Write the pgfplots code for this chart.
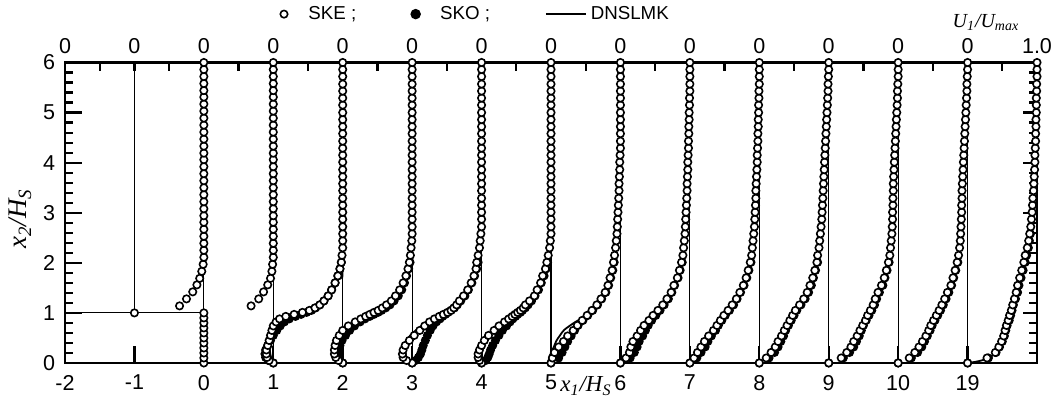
\documentclass[border=0pt]{standalone}
\usepackage{fontspec}
\setmainfont{Liberation Sans}
\newfontfamily\timesfont{Liberation Serif}
\usepackage{pgfplots}
\pgfplotsset{compat=1.18}
\usepackage{pgfplotstable}

\newcommand{\lab}[1]{{\timesfont\itshape #1}}

% Streamwise velocity profiles U1/Umax; each station is drawn from its own
% zero line, one unit of x standing for U1/Umax = 1.
% station x1/HS = -1 (above the step)
\pgfplotstableread[row sep=\\]{
y ske\\
1.00 0\\ 1.14 0.65\\ 1.28 0.75\\ 1.42 0.84\\ 1.56 0.90\\ 1.69 0.94\\ 1.83 0.97\\ 1.97 0.99\\
2.11 1\\ 2.25 1\\ 2.39 1\\ 2.53 1\\ 2.67 1\\ 2.81 1\\ 2.94 1\\ 3.08 1\\ 3.22 1\\ 3.36 1\\
3.50 1\\ 3.64 1\\ 3.78 1\\ 3.92 1\\ 4.06 1\\ 4.19 1\\ 4.33 1\\ 4.47 1\\ 4.61 1\\ 4.75 1\\
4.89 1\\ 5.03 1\\ 5.17 1\\ 5.31 1\\ 5.44 1\\ 5.58 1\\ 5.72 1\\ 5.86 1\\ 6.00 1\\
}\stationM
% station x1/HS = 0 (step edge)
\pgfplotstableread[row sep=\\]{
y ske\\
0 0\\ 0.10 0\\ 0.20 0\\ 0.30 0\\ 0.40 0\\ 0.50 0\\ 0.60 0\\ 0.70 0\\ 0.80 0\\ 0.90 0\\ 1.00 0\\
1.14 0.68\\ 1.28 0.79\\ 1.42 0.86\\ 1.56 0.92\\ 1.69 0.96\\ 1.83 0.98\\ 1.97 0.99\\
2.11 1\\ 2.25 1\\ 2.39 1\\ 2.53 1\\ 2.67 1\\ 2.81 1\\ 2.94 1\\ 3.08 1\\ 3.22 1\\ 3.36 1\\
3.50 1\\ 3.64 1\\ 3.78 1\\ 3.92 1\\ 4.06 1\\ 4.19 1\\ 4.33 1\\ 4.47 1\\ 4.61 1\\ 4.75 1\\
4.89 1\\ 5.03 1\\ 5.17 1\\ 5.31 1\\ 5.44 1\\ 5.58 1\\ 5.72 1\\ 5.86 1\\ 6.00 1\\
}\stationO
% station 1
\pgfplotstableread[row sep=\\]{
y ske sko\\
0 0 0\\ 0.05 -0.06 -0.07\\ 0.11 -0.09 -0.11\\ 0.18 -0.10 -0.12\\ 0.26 -0.10 -0.11\\
0.35 -0.08 -0.08\\ 0.45 -0.06 -0.04\\ 0.55 -0.04 0.00\\ 0.65 -0.02 0.05\\ 0.74 0.00 0.10\\
0.82 0.04 0.16\\ 0.88 0.09 0.23\\ 0.93 0.18 0.32\\ 0.97 0.30 0.40\\ 1.01 0.42 0.48\\
1.05 0.52 0.55\\ 1.10 0.60 0.61\\ 1.16 0.67 0.67\\ 1.24 0.73 0.73\\ 1.34 0.79 0.79\\
1.46 0.84 0.84\\ 1.60 0.89 0.89\\ 1.74 0.93 0.93\\ 1.88 0.96 0.96\\ 2.01 0.98 0.98\\
2.15 0.99 nan\\ 2.30 1 nan\\ 2.44 1 nan\\ 2.58 1 nan\\ 2.72 1 nan\\ 2.87 1 nan\\ 3.01 1 nan\\
3.15 1 nan\\ 3.29 1 nan\\ 3.44 1 nan\\ 3.58 1 nan\\ 3.72 1 nan\\ 3.86 1 nan\\ 4.01 1 nan\\
4.15 1 nan\\ 4.29 1 nan\\ 4.43 1 nan\\ 4.58 1 nan\\ 4.72 1 nan\\ 4.86 1 nan\\ 5.00 1 nan\\
5.15 1 nan\\ 5.29 1 nan\\ 5.43 1 nan\\ 5.57 1 nan\\ 5.72 1 nan\\ 5.86 1 nan\\ 6.00 1 nan\\
}\stationI
% station 2
\pgfplotstableread[row sep=\\]{
y ske sko\\
0 0 0\\ 0.05 -0.06 -0.04\\ 0.11 -0.10 -0.06\\ 0.18 -0.12 -0.07\\ 0.26 -0.12 -0.06\\
0.35 -0.11 -0.04\\ 0.45 -0.09 -0.01\\ 0.55 -0.05 0.04\\ 0.65 0.00 0.10\\ 0.74 0.08 0.17\\
0.82 0.18 0.25\\ 0.88 0.26 0.32\\ 0.93 0.33 0.39\\ 0.97 0.39 0.45\\ 1.01 0.45 0.51\\
1.05 0.51 0.56\\ 1.10 0.57 0.62\\ 1.16 0.63 0.68\\ 1.24 0.70 0.74\\ 1.34 0.76 0.80\\
1.46 0.82 0.85\\ 1.60 0.87 0.89\\ 1.74 0.91 0.92\\ 1.88 0.94 0.95\\ 2.01 0.96 0.97\\
2.15 0.975 nan\\ 2.30 0.985 nan\\ 2.44 0.995 nan\\ 2.58 1 nan\\ 2.72 1 nan\\ 2.87 1 nan\\ 3.01 1 nan\\
3.15 1 nan\\ 3.29 1 nan\\ 3.44 1 nan\\ 3.58 1 nan\\ 3.72 1 nan\\ 3.86 1 nan\\ 4.01 1 nan\\
4.15 1 nan\\ 4.29 1 nan\\ 4.43 1 nan\\ 4.58 1 nan\\ 4.72 1 nan\\ 4.86 1 nan\\ 5.00 1 nan\\
5.15 1 nan\\ 5.29 1 nan\\ 5.43 1 nan\\ 5.57 1 nan\\ 5.72 1 nan\\ 5.86 1 nan\\ 6.00 1 nan\\
}\stationII
% station 3
\pgfplotstableread[row sep=\\]{
y ske sko\\
0 0 0\\ 0.05 -0.08 0.05\\ 0.11 -0.13 0.09\\ 0.18 -0.14 0.12\\ 0.26 -0.13 0.14\\
0.35 -0.10 0.16\\ 0.45 -0.04 0.19\\ 0.55 0.03 0.22\\ 0.65 0.11 0.26\\ 0.74 0.18 0.30\\
0.82 0.25 0.35\\ 0.88 0.32 0.40\\ 0.93 0.39 0.44\\ 0.97 0.45 0.48\\ 1.01 0.51 0.52\\
1.05 0.56 0.56\\ 1.10 0.60 0.61\\ 1.16 0.64 0.65\\ 1.24 0.68 0.70\\ 1.34 0.74 0.76\\
1.46 0.80 0.81\\ 1.60 0.85 0.86\\ 1.74 0.89 0.90\\ 1.88 0.92 0.93\\ 2.01 0.93 0.95\\
2.15 0.95 nan\\ 2.30 0.97 nan\\ 2.44 0.98 nan\\ 2.58 0.99 nan\\ 2.72 1 nan\\ 2.87 1 nan\\ 3.01 1 nan\\
3.15 1 nan\\ 3.29 1 nan\\ 3.44 1 nan\\ 3.58 1 nan\\ 3.72 1 nan\\ 3.86 1 nan\\ 4.01 1 nan\\
4.15 1 nan\\ 4.29 1 nan\\ 4.43 1 nan\\ 4.58 1 nan\\ 4.72 1 nan\\ 4.86 1 nan\\ 5.00 1 nan\\
5.15 1 nan\\ 5.29 1 nan\\ 5.43 1 nan\\ 5.57 1 nan\\ 5.72 1 nan\\ 5.86 1 nan\\ 6.00 1 nan\\
}\stationIII
% station 4
\pgfplotstableread[row sep=\\]{
y ske sko\\
0 0 0\\ 0.05 -0.03 0.06\\ 0.11 -0.05 0.09\\ 0.18 -0.05 0.11\\ 0.26 -0.03 0.13\\
0.35 0.00 0.16\\ 0.45 0.04 0.20\\ 0.55 0.10 0.25\\ 0.65 0.18 0.30\\ 0.74 0.25 0.36\\
0.82 0.33 0.41\\ 0.88 0.39 0.45\\ 0.93 0.44 0.49\\ 0.97 0.48 0.52\\ 1.01 0.52 0.56\\
1.05 0.56 0.59\\ 1.10 0.60 0.63\\ 1.16 0.63 0.67\\ 1.24 0.69 0.72\\ 1.34 0.76 0.77\\
1.46 0.80 0.82\\ 1.60 0.85 0.86\\ 1.74 0.88 0.90\\ 1.88 0.92 0.93\\ 2.01 0.94 0.95\\
2.15 0.96 nan\\ 2.30 0.98 nan\\ 2.44 0.99 nan\\ 2.58 1 nan\\ 2.72 1 nan\\ 2.87 1 nan\\ 3.01 1 nan\\
3.15 1 nan\\ 3.29 1 nan\\ 3.44 1 nan\\ 3.58 1 nan\\ 3.72 1 nan\\ 3.86 1 nan\\ 4.01 1 nan\\
4.15 1 nan\\ 4.29 1 nan\\ 4.43 1 nan\\ 4.58 1 nan\\ 4.72 1 nan\\ 4.86 1 nan\\ 5.00 1 nan\\
5.15 1 nan\\ 5.29 1 nan\\ 5.43 1 nan\\ 5.57 1 nan\\ 5.72 1 nan\\ 5.86 1 nan\\ 6.00 1 nan\\
}\stationIV
% station 5
\pgfplotstableread[row sep=\\]{
y ske sko\\
0 0 0\\ 0.10 0.02 0.11\\ 0.21 0.05 0.16\\ 0.32 0.11 0.20\\ 0.43 0.18 0.24\\ 0.54 0.24 0.29\\
0.65 0.32 0.34\\ 0.75 0.38 0.39\\ 0.85 0.45 0.46\\ 0.95 0.52 0.53\\ 1.05 0.59 0.60\\
1.16 0.66 0.67\\ 1.28 0.72 0.73\\ 1.41 0.78 0.79\\ 1.55 0.82 0.83\\ 1.70 0.85 0.86\\
1.85 0.88 0.89\\ 2.01 0.90 0.91\\
2.15 0.915 nan\\ 2.30 0.93 nan\\ 2.44 0.94 nan\\ 2.58 0.95 nan\\ 2.72 0.955 nan\\ 2.87 0.96 nan\\
3.01 0.965 nan\\ 3.15 0.97 nan\\ 3.29 0.975 nan\\ 3.44 0.98 nan\\ 3.58 0.98 nan\\ 3.72 0.985 nan\\
3.86 0.99 nan\\ 4.01 0.99 nan\\ 4.15 0.995 nan\\ 4.29 1 nan\\ 4.43 1 nan\\ 4.58 1 nan\\
4.72 1 nan\\ 4.86 1 nan\\ 5.00 1 nan\\ 5.15 1 nan\\ 5.29 1 nan\\ 5.43 1 nan\\ 5.57 1 nan\\
5.72 1 nan\\ 5.86 1 nan\\ 6.00 1 nan\\
}\stationV
% station 6
\pgfplotstableread[row sep=\\]{
y ske sko\\
0 0 0\\ 0.10 0.08 0.14\\ 0.21 0.13 0.20\\ 0.32 0.15 0.24\\ 0.43 0.18 0.27\\ 0.54 0.24 0.32\\
0.65 0.29 0.36\\ 0.75 0.34 0.40\\ 0.85 0.41 0.45\\ 0.95 0.47 0.51\\ 1.05 0.54 0.57\\
1.16 0.61 0.63\\ 1.28 0.67 0.69\\ 1.41 0.73 0.74\\ 1.55 0.77 0.78\\ 1.70 0.82 0.83\\
1.85 0.85 0.86\\ 2.01 0.88 0.89\\
2.15 0.90 nan\\ 2.30 0.91 nan\\ 2.44 0.92 nan\\ 2.58 0.93 nan\\ 2.72 0.935 nan\\ 2.87 0.94 nan\\
3.01 0.945 nan\\ 3.15 0.95 nan\\ 3.29 0.955 nan\\ 3.44 0.96 nan\\ 3.58 0.96 nan\\ 3.72 0.965 nan\\
3.86 0.97 nan\\ 4.01 0.97 nan\\ 4.15 0.975 nan\\ 4.29 0.98 nan\\ 4.43 0.98 nan\\ 4.58 0.985 nan\\
4.72 0.985 nan\\ 4.86 0.99 nan\\ 5.00 0.99 nan\\ 5.15 0.995 nan\\ 5.29 0.995 nan\\ 5.43 1 nan\\
5.57 1 nan\\ 5.72 1 nan\\ 5.86 1 nan\\ 6.00 1 nan\\
}\stationVI
% station 7
\pgfplotstableread[row sep=\\]{
y ske sko\\
0 0 0\\ 0.10 0.06 0.10\\ 0.21 0.11 0.16\\ 0.32 0.16 0.22\\ 0.43 0.21 0.26\\ 0.54 0.27 0.31\\
0.65 0.34 0.37\\ 0.75 0.39 0.41\\ 0.85 0.44 0.46\\ 0.95 0.49 0.51\\ 1.05 0.55 0.57\\
1.16 0.61 0.63\\ 1.28 0.67 0.68\\ 1.41 0.72 0.73\\ 1.55 0.77 0.78\\ 1.70 0.81 0.82\\
1.85 0.84 0.85\\ 2.01 0.87 0.88\\
2.15 0.89 nan\\ 2.30 0.90 nan\\ 2.44 0.91 nan\\ 2.58 0.92 nan\\ 2.72 0.93 nan\\ 2.87 0.935 nan\\
3.01 0.94 nan\\ 3.15 0.945 nan\\ 3.29 0.95 nan\\ 3.44 0.95 nan\\ 3.58 0.955 nan\\ 3.72 0.96 nan\\
3.86 0.965 nan\\ 4.01 0.97 nan\\ 4.15 0.97 nan\\ 4.29 0.975 nan\\ 4.43 0.98 nan\\ 4.58 0.98 nan\\
4.72 0.985 nan\\ 4.86 0.985 nan\\ 5.00 0.99 nan\\ 5.15 0.99 nan\\ 5.29 0.995 nan\\ 5.43 0.995 nan\\
5.57 1 nan\\ 5.72 1 nan\\ 5.86 1 nan\\ 6.00 1 nan\\
}\stationVII
% station 8
\pgfplotstableread[row sep=\\]{
y ske sko\\
0 0 0\\ 0.10 0.10 0.14\\ 0.21 0.17 0.22\\ 0.32 0.23 0.27\\ 0.43 0.27 0.31\\ 0.54 0.32 0.35\\
0.65 0.36 0.38\\ 0.75 0.40 0.42\\ 0.85 0.44 0.46\\ 0.95 0.48 0.50\\ 1.05 0.52 0.54\\
1.16 0.58 0.60\\ 1.28 0.64 0.66\\ 1.41 0.69 0.71\\ 1.55 0.73 0.75\\ 1.70 0.77 0.78\\
1.85 0.80 0.81\\ 2.01 0.83 0.84\\
2.15 0.84 nan\\ 2.30 0.86 nan\\ 2.44 0.87 nan\\ 2.58 0.88 nan\\ 2.72 0.89 nan\\ 2.87 0.90 nan\\
3.01 0.905 nan\\ 3.15 0.91 nan\\ 3.29 0.915 nan\\ 3.44 0.92 nan\\ 3.58 0.925 nan\\ 3.72 0.93 nan\\
3.86 0.935 nan\\ 4.01 0.94 nan\\ 4.15 0.945 nan\\ 4.29 0.95 nan\\ 4.43 0.955 nan\\ 4.58 0.96 nan\\
4.72 0.965 nan\\ 4.86 0.97 nan\\ 5.00 0.975 nan\\ 5.15 0.98 nan\\ 5.29 0.985 nan\\ 5.43 0.99 nan\\
5.57 0.99 nan\\ 5.72 0.995 nan\\ 5.86 1 nan\\ 6.00 1 nan\\
}\stationVIII
% station 9
\pgfplotstableread[row sep=\\]{
y ske sko\\
0 0 0\\ 0.10 0.18 0.21\\ 0.21 0.26 0.30\\ 0.32 0.32 0.36\\ 0.43 0.36 0.40\\ 0.54 0.41 0.44\\
0.65 0.45 0.47\\ 0.75 0.49 0.50\\ 0.85 0.53 0.54\\ 0.95 0.56 0.58\\ 1.05 0.60 0.62\\
1.16 0.64 0.66\\ 1.28 0.67 0.69\\ 1.41 0.71 0.73\\ 1.55 0.76 0.78\\ 1.70 0.80 0.81\\
1.85 0.83 0.84\\ 2.01 0.86 0.87\\
2.15 0.88 nan\\ 2.30 0.89 nan\\ 2.44 0.90 nan\\ 2.58 0.91 nan\\ 2.72 0.915 nan\\ 2.87 0.92 nan\\
3.01 0.92 nan\\ 3.15 0.925 nan\\ 3.29 0.925 nan\\ 3.44 0.93 nan\\ 3.58 0.93 nan\\ 3.72 0.935 nan\\
3.86 0.94 nan\\ 4.01 0.945 nan\\ 4.15 0.95 nan\\ 4.29 0.955 nan\\ 4.43 0.96 nan\\ 4.58 0.965 nan\\
4.72 0.97 nan\\ 4.86 0.975 nan\\ 5.00 0.98 nan\\ 5.15 0.985 nan\\ 5.29 0.99 nan\\ 5.43 0.99 nan\\
5.57 0.995 nan\\ 5.72 1 nan\\ 5.86 1 nan\\ 6.00 1 nan\\
}\stationIX
% station 10
\pgfplotstableread[row sep=\\]{
y ske sko\\
0 0 0\\ 0.10 0.16 0.19\\ 0.21 0.24 0.28\\ 0.32 0.30 0.34\\ 0.43 0.35 0.38\\ 0.54 0.40 0.42\\
0.65 0.44 0.46\\ 0.75 0.47 0.49\\ 0.85 0.51 0.53\\ 0.95 0.55 0.57\\ 1.05 0.59 0.61\\
1.16 0.63 0.65\\ 1.28 0.67 0.69\\ 1.41 0.71 0.73\\ 1.55 0.76 0.77\\ 1.70 0.79 0.80\\
1.85 0.82 0.83\\ 2.01 0.85 0.86\\
2.15 0.87 nan\\ 2.30 0.885 nan\\ 2.44 0.895 nan\\ 2.58 0.90 nan\\ 2.72 0.905 nan\\ 2.87 0.91 nan\\
3.01 0.915 nan\\ 3.15 0.915 nan\\ 3.29 0.92 nan\\ 3.44 0.92 nan\\ 3.58 0.925 nan\\ 3.72 0.93 nan\\
3.86 0.935 nan\\ 4.01 0.94 nan\\ 4.15 0.945 nan\\ 4.29 0.95 nan\\ 4.43 0.955 nan\\ 4.58 0.96 nan\\
4.72 0.965 nan\\ 4.86 0.97 nan\\ 5.00 0.975 nan\\ 5.15 0.98 nan\\ 5.29 0.985 nan\\ 5.43 0.99 nan\\
5.57 0.99 nan\\ 5.72 0.995 nan\\ 5.86 1 nan\\ 6.00 1 nan\\
}\stationX
% station 19 (drawn at position 11)
\pgfplotstableread[row sep=\\]{
y ske sko\\
0 0 0\\ 0.10 0.28 0.30\\ 0.21 0.40 0.41\\ 0.32 0.45 0.46\\ 0.43 0.49 0.50\\ 0.54 0.52 0.53\\
0.65 0.54 0.55\\ 0.75 0.56 0.57\\ 0.85 0.585 0.60\\ 0.95 0.605 0.62\\ 1.05 0.63 0.64\\
1.16 0.65 0.66\\ 1.28 0.675 0.69\\ 1.41 0.70 0.72\\ 1.55 0.72 0.74\\ 1.70 0.75 0.77\\
1.85 0.78 0.80\\ 2.01 0.81 0.83\\
2.15 0.83 0.85\\ 2.30 0.86 0.875\\ 2.44 0.88 0.89\\ 2.58 0.895 0.905\\ 2.72 0.91 nan\\ 2.87 0.92 nan\\
3.01 0.93 nan\\ 3.15 0.935 nan\\ 3.29 0.94 nan\\ 3.44 0.95 nan\\ 3.58 0.955 nan\\ 3.72 0.96 nan\\
3.86 0.965 nan\\ 4.01 0.97 nan\\ 4.15 0.97 nan\\ 4.29 0.975 nan\\ 4.43 0.98 nan\\ 4.58 0.98 nan\\
4.72 0.985 nan\\ 4.86 0.985 nan\\ 5.00 0.99 nan\\ 5.15 0.99 nan\\ 5.29 0.99 nan\\ 5.43 0.995 nan\\
5.57 0.995 nan\\ 5.72 1 nan\\ 5.86 1 nan\\ 6.00 1 nan\\
}\stationXIX

% DNS profiles (Le, Moin & Kim)
\pgfplotstableread[row sep=\\]{
y u\\
0 0\\ 0.10 -0.03\\ 0.25 -0.05\\ 0.40 -0.05\\ 0.55 -0.03\\ 0.68 0.00\\ 0.78 0.04\\ 0.86 0.09\\
0.94 0.16\\ 0.99 0.28\\ 1.03 0.40\\ 1.07 0.52\\ 1.11 0.63\\ 1.17 0.71\\ 1.26 0.78\\ 1.40 0.85\\
1.60 0.92\\ 1.80 0.97\\ 2.00 1.00\\ 6.00 1.00\\
}\dnsI
\pgfplotstableread[row sep=\\]{
y u\\
0 0\\ 0.05 -0.12\\ 0.15 -0.16\\ 0.26 -0.15\\ 0.40 -0.10\\ 0.53 -0.04\\ 0.66 0.06\\ 0.78 0.18\\
0.87 0.30\\ 0.96 0.43\\ 1.05 0.56\\ 1.16 0.67\\ 1.30 0.76\\ 1.50 0.84\\ 1.72 0.90\\ 1.95 0.95\\
2.30 0.98\\ 2.70 1.00\\ 6.00 1.00\\
}\dnsIII
\pgfplotstableread[row sep=\\]{
y u\\
0 0\\ 0.04 -0.03\\ 0.10 -0.03\\ 0.20 0.00\\ 0.32 0.04\\ 0.45 0.08\\ 0.55 0.13\\ 0.66 0.19\\
0.80 0.33\\ 0.91 0.46\\ 1.03 0.57\\ 1.17 0.66\\ 1.33 0.74\\ 1.52 0.81\\ 1.75 0.86\\ 2.00 0.90\\
2.40 0.94\\ 2.90 0.97\\ 3.50 0.99\\ 4.20 1.00\\ 6.00 1.00\\
}\dnsV
\pgfplotstableread[row sep=\\]{
y u\\
0 0\\ 0.05 0.05\\ 0.15 0.10\\ 0.30 0.16\\ 0.46 0.24\\ 0.62 0.33\\ 0.78 0.42\\ 0.92 0.50\\
1.06 0.58\\ 1.22 0.66\\ 1.42 0.74\\ 1.65 0.81\\ 1.90 0.87\\ 2.25 0.92\\ 2.70 0.95\\ 3.30 0.98\\
4.00 1.00\\ 6.00 1.00\\
}\dnsVII
\pgfplotstableread[row sep=\\]{
y u\\
0 0\\ 0.02 0.10\\ 0.05 0.20\\ 0.10 0.30\\ 0.17 0.38\\ 0.28 0.44\\ 0.42 0.49\\ 0.58 0.53\\
0.75 0.57\\ 0.92 0.61\\ 1.10 0.65\\ 1.30 0.69\\ 1.50 0.73\\ 1.75 0.78\\ 2.00 0.83\\ 2.30 0.88\\
2.60 0.92\\ 3.00 0.95\\ 3.50 0.97\\ 4.20 0.99\\ 5.00 1.00\\ 6.00 1.00\\
}\dnsXIX

\tikzset{frametick/.style={black, line width=1.1bp}}
\pgfplotsset{
  ske/.style={only marks, mark=*, mark size=1.85bp,
    mark options={draw=black, fill=white, line width=0.8bp}},
  sko/.style={only marks, mark=*, mark size=1.85bp,
    mark options={draw=black, fill=black, line width=0.8bp}},
  dns/.style={black, line width=0.9bp, no marks, smooth, tension=0.5},
  base/.style={black, line width=0.6bp, no marks},
  markkey/.style={legend image code/.code={%
    \draw[##1] plot coordinates {(0bp,0bp)};
    \path (-1.8bp,0bp) (10bp,0bp);}},
  profilebox/.style={
    scale only axis, width=486bp, height=150.25bp,
    xmin=-2, xmax=12, ymin=0, ymax=6,
    axis line style={line width=1.1bp},
    ticklabel style={font=\fontsize{10.8}{12}\selectfont},
  },
}

\begin{document}
\begin{tikzpicture}
% upper scale: U1/Umax = 0 at each station, 1.0 at the right edge
\begin{axis}[
  profilebox,
  xtick={-2,...,12},
  xticklabels={0,0,0,0,0,0,0,0,0,0,0,0,0,0,1.0},
  xtick pos=right, xticklabel pos=right,
  major tick length=0pt,
  xticklabel style={yshift=1bp},
  ytick=\empty,
]
\end{axis}

\begin{axis}[
  profilebox,
  name=main,
  clip=false,
  xtick={-2,...,11},
  xticklabels={-2,-1,0,1,2,3,4,5,6,7,8,9,10,19},
  xtick pos=left,
  ytick={0,...,6}, yticklabels={0,1,2,3,4,5,6},
  ytick pos=left, yticklabel pos=left,
  major tick length=0pt,
  xticklabel style={yshift=-2.5bp},
  yticklabel style={xshift=-1.4bp},
  ylabel={\lab{x\textsubscript{2}/H\textsubscript{S}}},
  every axis y label/.style={at={(axis description cs:-0.046,0.48)},
    rotate=90, anchor=center, font=\fontsize{13.5}{15}\selectfont},
  legend columns=3,
  legend style={draw=none, fill=none, inner sep=0pt,
    at={(axis description cs:0.2208,1.161)}, anchor=west,
    font=\fontsize{9.4}{11}\selectfont,
    /tikz/every even column/.append style={column sep=25.5bp}},
]
\addlegendimage{ske, markkey}
\addlegendentry{SKE ;}
\addlegendimage{sko, mark size=2.2bp, markkey}
\addlegendentry{SKO ;}
\addlegendimage{black, line width=0.9bp,
  legend image code/.code={\draw[black, line width=0.9bp] (0bp,0bp) -- (20bp,0bp);}}
\addlegendentry{DNSLMK}

% frame ticks, pointing inwards: x2/HS every 0.2 on both sides (long at whole
% numbers), x1/HS at whole numbers below, U1/Umax every 0.5 above
\pgfplotsinvokeforeach{0.2,0.4,0.6,0.8,1.2,1.4,1.6,1.8,2.2,2.4,2.6,2.8,3.2,3.4,3.6,3.8,4.2,4.4,4.6,4.8,5.2,5.4,5.6,5.8}{
  \draw[frametick] (axis cs:-2,#1) -- ++(4bp,0bp);
  \draw[frametick] (axis cs:12,#1) -- ++(-4bp,0bp);
}
\pgfplotsinvokeforeach{1,2,3,4,5}{
  \draw[frametick] (axis cs:-2,#1) -- ++(8.5bp,0bp);
  \draw[frametick] (axis cs:12,#1) -- ++(-7bp,0bp);
}
\pgfplotsinvokeforeach{-1,0,1,2,3,4,5,6,7,8,9,10,11}{
  \draw[frametick] (axis cs:#1,0) -- ++(0bp,8.5bp);
}
\pgfplotsinvokeforeach{-1.5,-1,-0.5,0,0.5,1,1.5,2,2.5,3,3.5,4,4.5,5,5.5,6,6.5,7,7.5,8,8.5,9,9.5,10,10.5,11,11.5}{
  \draw[frametick] (axis cs:#1,6) -- ++(0bp,-4.5bp);
}

% step outline and zero lines of the stations
\addplot[base, forget plot] coordinates {(-2,1) (0,1)};
\addplot[base, forget plot] coordinates {(-1,1) (-1,6)};
\addplot[base, forget plot] coordinates {(0,0) (0,6)};
\addplot[base, forget plot] coordinates {(1,0) (1,6)};
\addplot[base, forget plot] coordinates {(2,0) (2,6)};
\addplot[base, forget plot] coordinates {(3,0) (3,6)};
\addplot[base, forget plot] coordinates {(4,0) (4,6)};
\addplot[base, forget plot] coordinates {(5,0) (5,6)};
\addplot[base, forget plot] coordinates {(6,0) (6,6)};
\addplot[base, forget plot] coordinates {(7,0) (7,6)};
\addplot[base, forget plot] coordinates {(8,0) (8,6)};
\addplot[base, forget plot] coordinates {(9,0) (9,6)};
\addplot[base, forget plot] coordinates {(10,0) (10,6)};
\addplot[base, forget plot] coordinates {(11,0) (11,6)};

% SKO
\addplot[sko, forget plot] table[x expr=\thisrow{sko}+1, y=y] {\stationI};
\addplot[sko, forget plot] table[x expr=\thisrow{sko}+2, y=y] {\stationII};
\addplot[sko, forget plot] table[x expr=\thisrow{sko}+3, y=y] {\stationIII};
\addplot[sko, forget plot] table[x expr=\thisrow{sko}+4, y=y] {\stationIV};
\addplot[sko, forget plot] table[x expr=\thisrow{sko}+5, y=y] {\stationV};
\addplot[sko, forget plot] table[x expr=\thisrow{sko}+6, y=y] {\stationVI};
\addplot[sko, forget plot] table[x expr=\thisrow{sko}+7, y=y] {\stationVII};
\addplot[sko, forget plot] table[x expr=\thisrow{sko}+8, y=y] {\stationVIII};
\addplot[sko, forget plot] table[x expr=\thisrow{sko}+9, y=y] {\stationIX};
\addplot[sko, forget plot] table[x expr=\thisrow{sko}+10, y=y] {\stationX};
\addplot[sko, forget plot] table[x expr=\thisrow{sko}+11, y=y] {\stationXIX};

% SKE
\addplot[ske, forget plot] table[x expr=\thisrow{ske}-1, y=y] {\stationM};
\addplot[ske, forget plot] table[x expr=\thisrow{ske}+0, y=y] {\stationO};
\addplot[ske, forget plot] table[x expr=\thisrow{ske}+1, y=y] {\stationI};
\addplot[ske, forget plot] table[x expr=\thisrow{ske}+2, y=y] {\stationII};
\addplot[ske, forget plot] table[x expr=\thisrow{ske}+3, y=y] {\stationIII};
\addplot[ske, forget plot] table[x expr=\thisrow{ske}+4, y=y] {\stationIV};
\addplot[ske, forget plot] table[x expr=\thisrow{ske}+5, y=y] {\stationV};
\addplot[ske, forget plot] table[x expr=\thisrow{ske}+6, y=y] {\stationVI};
\addplot[ske, forget plot] table[x expr=\thisrow{ske}+7, y=y] {\stationVII};
\addplot[ske, forget plot] table[x expr=\thisrow{ske}+8, y=y] {\stationVIII};
\addplot[ske, forget plot] table[x expr=\thisrow{ske}+9, y=y] {\stationIX};
\addplot[ske, forget plot] table[x expr=\thisrow{ske}+10, y=y] {\stationX};
\addplot[ske, forget plot] table[x expr=\thisrow{ske}+11, y=y] {\stationXIX};

% DNS
\addplot[dns, forget plot] table[x expr=\thisrow{u}+1, y=y] {\dnsI};
\addplot[dns, forget plot] table[x expr=\thisrow{u}+3, y=y] {\dnsIII};
\addplot[dns, forget plot] table[x expr=\thisrow{u}+5, y=y] {\dnsV};
\addplot[dns, forget plot] table[x expr=\thisrow{u}+7, y=y] {\dnsVII};
\addplot[dns, forget plot] table[x expr=\thisrow{u}+11, y=y] {\dnsXIX};

\node[anchor=base west, inner sep=0pt, yshift=-14.5bp,
  font=\fontsize{11.5}{13}\selectfont] at (axis cs:5.13,0)
  {\lab{x\textsubscript{1}/H\textsubscript{S}}};
\node[anchor=base west, inner sep=0pt, yshift=17.25bp,
  font=\fontsize{10}{12}\selectfont] at (axis cs:10.78,6)
  {\lab{U\textsubscript{1}/U\textsubscript{max}}};
\end{axis}

\pgfresetboundingbox
\path ([shift={(-32.5bp,-22bp)}]main.south west)
  rectangle ([shift={(13bp,31.25bp)}]main.north east);
\end{tikzpicture}
\end{document}
